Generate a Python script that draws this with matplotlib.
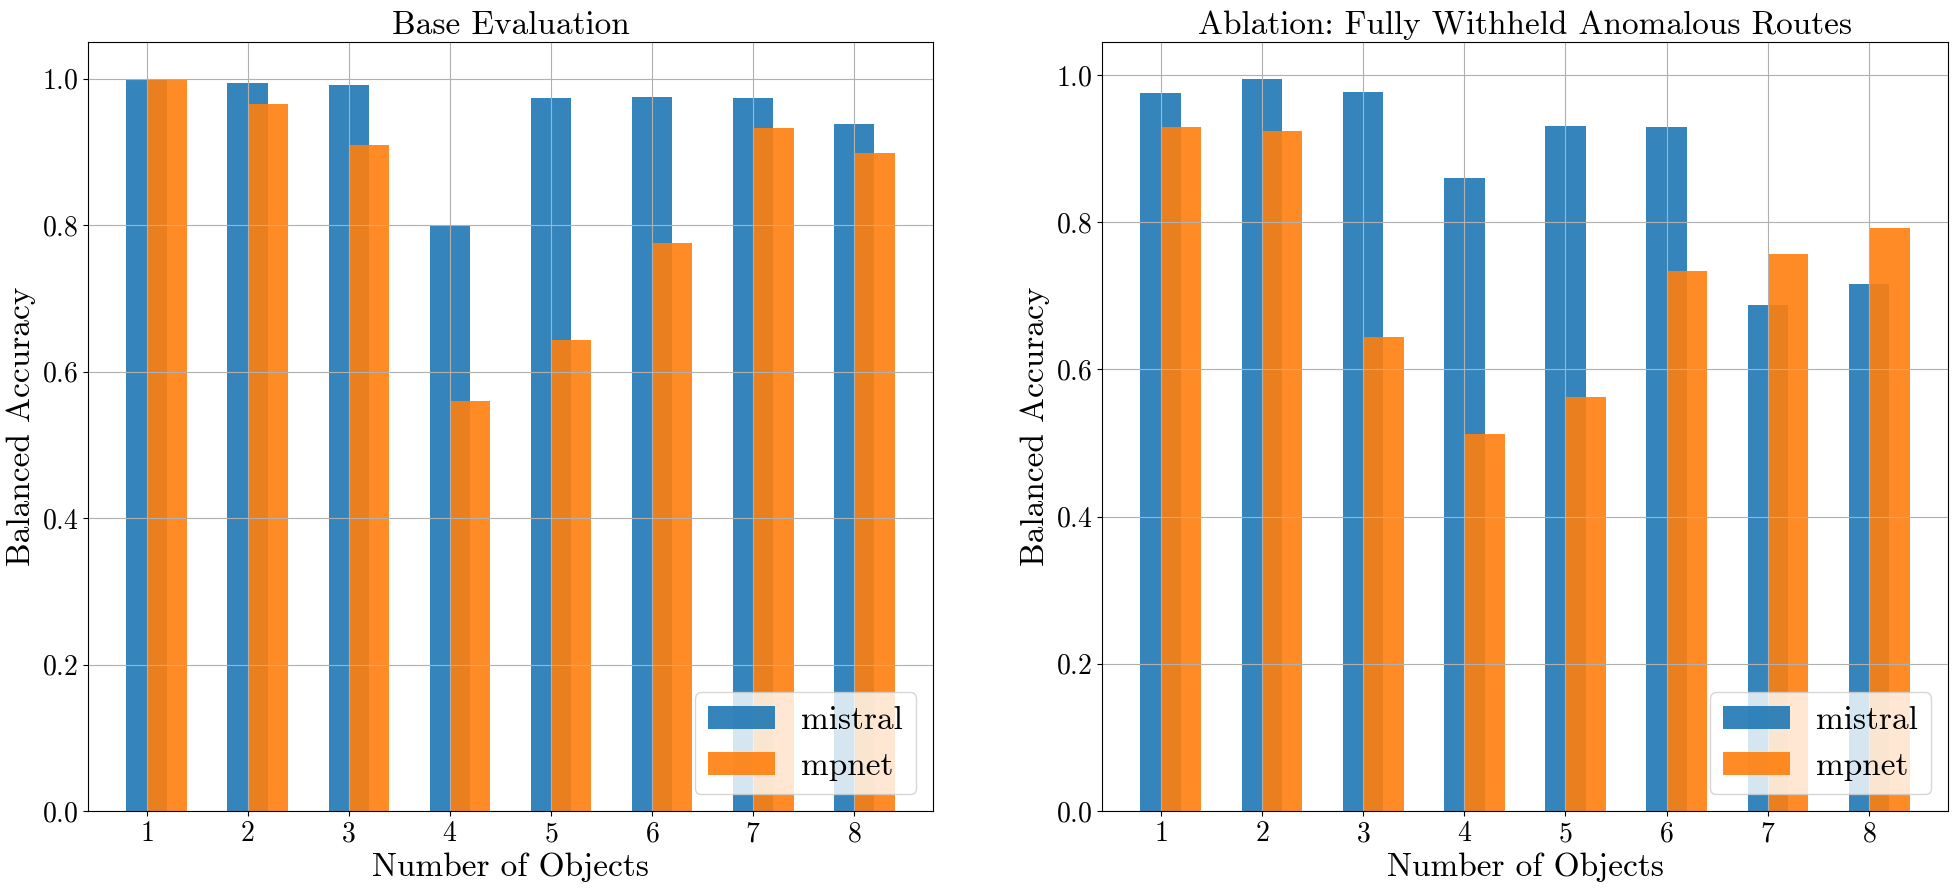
import matplotlib
matplotlib.use("Agg")
import matplotlib.pyplot as plt
import numpy as np

plt.rcParams['font.family'] = 'serif'
plt.rcParams['font.serif'] = ['cmr10']
plt.rcParams['mathtext.fontset'] = 'cm'
plt.rcParams['axes.formatter.use_mathtext'] = True

num_objects = [1, 2, 3, 4, 5, 6, 7, 8]
series_names = ["mistral", "mpnet"]

base_mistral = [1.000, 0.994, 0.991, 0.800, 0.973, 0.975, 0.973, 0.938]
base_mpnet = [1.000, 0.965, 0.909, 0.560, 0.643, 0.775, 0.932, 0.898]

abl_mistral = [0.975, 0.995, 0.977, 0.860, 0.930, 0.929, 0.688, 0.716]
abl_mpnet = [0.929, 0.924, 0.644, 0.512, 0.562, 0.734, 0.757, 0.792]

titles = ["Base Evaluation", "Ablation: Fully Withheld Anomalous Routes"]

fig = plt.figure(figsize=(19.57, 8.9), dpi=100)
ax1 = fig.add_axes([88/1957, 79/890, 845/1957, 769/890])
ax2 = fig.add_axes([1102/1957, 79/890, 846/1957, 769/890])

x = np.array(num_objects)
width = 0.4
for ax, m, p, t in [(ax1, base_mistral, base_mpnet, titles[0]),
                    (ax2, abl_mistral, abl_mpnet, titles[1])]:
    ax.bar(x, m, width=width, align='center', alpha=0.9, color='#1f77b4', label=series_names[0])
    ax.bar(x, p, width=width, align='edge', alpha=0.9, color='#ff7f0e', label=series_names[1])
    ax.grid(True)
    ax.set_xticks(num_objects)
    ax.set_title(t, fontsize=24)
    ax.set_xlabel("Number of Objects", fontsize=24)
    ax.set_ylabel("Balanced Accuracy", fontsize=24)
    ax.tick_params(labelsize=20)
    ax.legend(loc='lower right', fontsize=24)

fig.savefig("out.png", dpi=100)
